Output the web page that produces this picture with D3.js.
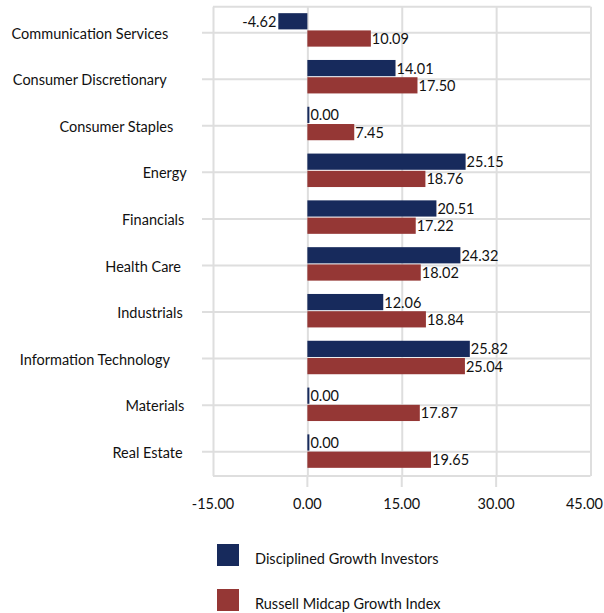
<!DOCTYPE html>
<html>
<head>
<meta charset="utf-8">
<script src="https://cdn.jsdelivr.net/npm/d3@7"></script>
<style>
  html, body { margin: 0; padding: 0; background: #ffffff; }
  svg { display: block; font-family: "Lato", "Open Sans", sans-serif; }
</style>
</head>
<body>
<svg id="chart" width="604" height="613"></svg>
<script>
// ---- data ----
const categories = [
  "Communication Services",
  "Consumer Discretionary",
  "Consumer Staples",
  "Energy",
  "Financials",
  "Health Care",
  "Industrials",
  "Information Technology",
  "Materials",
  "Real Estate"
];
const seriesNames = ["Disciplined Growth Investors", "Russell Midcap Growth Index"];
const dgiValues = [-4.62, 14.01, 0.00, 25.15, 20.51, 24.32, 12.06, 25.82, 0.00, 0.00];
const russellValues = [10.09, 17.50, 7.45, 18.76, 17.22, 18.02, 18.84, 25.04, 17.87, 19.65];
const xTicks = [-15, 0, 15, 30, 45];

// ---- layout (not data) ----
const labelRightEdge = [168.3, 166.7, 173.3, 186.7, 184.3, 181, 182.7, 170, 184.3, 182.7];
const colors = ["#172a5c", "#953735"];
const gridColor = "#dedede";
const plot = { left: 213, right: 590.5, top: 6.7, bottom: 476 };

const svg = d3.select("#chart");
const fontSize = 14.5;

const x = d3.scaleLinear().domain([-15, 45]).range([plot.left, plot.right]);
const y0 = d3.scaleBand().domain(categories).range([6.5, 474.5]).paddingInner(0.285).paddingOuter(0.1425);
const y1 = d3.scaleBand().domain([0, 1]).range([0, y0.bandwidth()]).paddingInner(0.06);
const yGrid = d3.scalePoint().domain(categories).range([32.7, 451.7]);

// gridlines
const g = svg.append("g");
const xAxis = d3.axisBottom(x).tickValues(xTicks).tickSize(-(plot.bottom - plot.top)).tickFormat(d => d.toFixed(2));
const xg = g.append("g").attr("transform", `translate(0,${plot.bottom})`).call(xAxis);
xg.select(".domain").remove();
xg.selectAll(".tick line").attr("stroke", gridColor).attr("stroke-width", 2);
xg.selectAll(".tick text").remove();
g.selectAll("line.xstub").data(xTicks.slice(1, -1)).join("line")
  .attr("class", "xstub")
  .attr("x1", d => x(d)).attr("x2", d => x(d))
  .attr("y1", plot.bottom).attr("y2", plot.bottom + 11)
  .attr("stroke", gridColor).attr("stroke-width", 2);

g.selectAll("line.hgrid").data(categories).join("line")
  .attr("class", "hgrid")
  .attr("x1", plot.left - 11).attr("x2", plot.right)
  .attr("y1", d => yGrid(d)).attr("y2", d => yGrid(d))
  .attr("stroke", gridColor).attr("stroke-width", 2);
g.selectAll("line.frame").data([plot.top, plot.bottom]).join("line")
  .attr("class", "frame")
  .attr("x1", plot.left).attr("x2", plot.right)
  .attr("y1", d => d).attr("y2", d => d)
  .attr("stroke", gridColor).attr("stroke-width", 2);

// x tick labels
svg.append("g").selectAll("text").data(xTicks).join("text")
  .attr("x", (d, i) => i === xTicks.length - 1 ? 603 : x(d))
  .attr("y", 503.5)
  .attr("dy", "0.35em")
  .attr("text-anchor", (d, i) => i === xTicks.length - 1 ? "end" : "middle")
  .attr("font-size", fontSize)
  .attr("fill", "#111")
  .text(d => d.toFixed(2));

// y labels
svg.append("g").selectAll("text").data(categories).join("text")
  .attr("x", (d, i) => labelRightEdge[i])
  .attr("y", d => yGrid(d) + 1)
  .attr("dy", "0.35em")
  .attr("text-anchor", "end")
  .attr("font-size", fontSize)
  .attr("fill", "#111")
  .text(d => d);

// bars
const series = [dgiValues, russellValues];
const rows = [];
categories.forEach((c, i) => {
  series.forEach((vals, s) => rows.push({ cat: c, s, v: vals[i] }));
});

const barG = svg.append("g");
barG.selectAll("rect").data(rows).join("rect")
  .attr("x", d => Math.min(x(0), x(d.v)))
  .attr("width", d => Math.max(2, Math.abs(x(d.v) - x(0))))
  .attr("y", d => y0(d.cat) + y1(d.s))
  .attr("height", y1.bandwidth())
  .attr("fill", d => colors[d.s]);

// value labels
barG.selectAll("text").data(rows).join("text")
  .attr("x", d => d.v < 0 ? x(d.v) - 2 : Math.max(x(d.v), x(0) + 2) + 1)
  .attr("y", d => y0(d.cat) + y1(d.s) + y1.bandwidth() / 2 + 0.5)
  .attr("dy", "0.35em")
  .attr("text-anchor", d => d.v < 0 ? "end" : "start")
  .attr("font-size", fontSize)
  .attr("fill", "#111")
  .text(d => d.v.toFixed(2));

// legend
const legend = svg.append("g");
const legendY = [555, 600];
seriesNames.forEach((name, i) => {
  legend.append("rect")
    .attr("x", 217).attr("y", legendY[i] - 11)
    .attr("width", 22).attr("height", 22)
    .attr("fill", colors[i]);
  legend.append("text")
    .attr("x", 255).attr("y", legendY[i] + 3.5)
    .attr("dy", "0.35em")
    .attr("font-size", fontSize)
    .attr("fill", "#111")
    .text(name);
});
</script>
</body>
</html>
